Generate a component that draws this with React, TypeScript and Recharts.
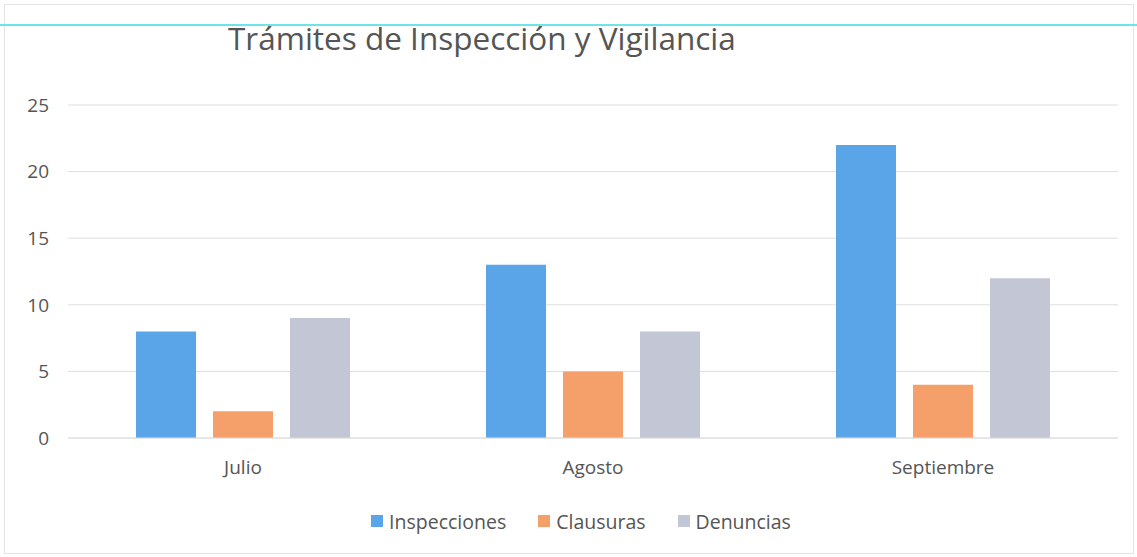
import React from 'react';
import { BarChart, Bar, XAxis, YAxis, CartesianGrid, Legend } from 'recharts';

const months = ['Julio', 'Agosto', 'Septiembre'];
const inspecciones = [8, 13, 22];
const clausuras = [2, 5, 4];
const denuncias = [9, 8, 12];
const yTicks = [0, 5, 10, 15, 20, 25];
const seriesNames = ['Inspecciones', 'Clausuras', 'Denuncias'];
const seriesColors = ['#5aa5e8', '#f5a06a', '#c3c6d4'];

const data = months.map((m, i) => ({
  name: m,
  Inspecciones: inspecciones[i],
  Clausuras: clausuras[i],
  Denuncias: denuncias[i],
}));

const FONT = '"Open Sans", "Noto Sans", sans-serif';

// keep the legend in series order (recharts sorts it by name otherwise)
function renderLegend() {
  return (
    <div style={{ display: 'flex', justifyContent: 'center', alignItems: 'center', height: 24, fontSize: 19.5, fontFamily: FONT, color: '#555' }}>
      {seriesNames.map((n, i) => (
        <div key={n} style={{ display: 'flex', alignItems: 'center', marginRight: i < seriesNames.length - 1 ? 32 : 0 }}>
          <span style={{ display: 'inline-block', width: 12, height: 12, background: seriesColors[i], marginRight: 6 }} />
          <span>{n}</span>
        </div>
      ))}
    </div>
  );
}

export default function App() {
  return (
    <div style={{ position: 'absolute', left: 0, top: 0, width: 1137, height: 557, background: '#fff', fontFamily: FONT }}>
      <div style={{ position: 'absolute', left: 4, top: 4, width: 1128, height: 548, border: '1px solid #e4e4e4' }} />
      <div style={{ position: 'absolute', left: 0, top: 24, width: 1137, height: 2, background: '#6fe3ea' }} />
      <div style={{ position: 'absolute', left: 228, top: 16, fontSize: 31.5, color: '#555', whiteSpace: 'nowrap', lineHeight: '44px' }}>
        Trámites de Inspección y Vigilancia
      </div>
      <BarChart
        width={1137}
        height={557}
        data={data}
        margin={{ top: 105, right: 19, left: 28, bottom: 24 }}
        barSize={60}
        barGap={17}
      >
        <CartesianGrid vertical={false} stroke="#dedede" />
        <XAxis
          dataKey="name"
          axisLine={{ stroke: '#dedede' }}
          tickLine={false}
          tickSize={0}
          tickMargin={23}
          height={71}
          tick={{ fill: '#555', fontSize: 19, fontFamily: FONT }}
        />
        <YAxis
          domain={[0, 25]}
          ticks={yTicks}
          width={40}
          axisLine={false}
          tickLine={false}
          tickSize={0}
          tickMargin={19}
          tick={{ fill: '#555', fontSize: 19, fontFamily: FONT }}
        />
        <Legend verticalAlign="bottom" align="center" content={renderLegend} wrapperStyle={{ left: 36 }} />
        {seriesNames.map((n, i) => (
          <Bar key={n} dataKey={n} fill={seriesColors[i]} isAnimationActive={false} />
        ))}
      </BarChart>
    </div>
  );
}
